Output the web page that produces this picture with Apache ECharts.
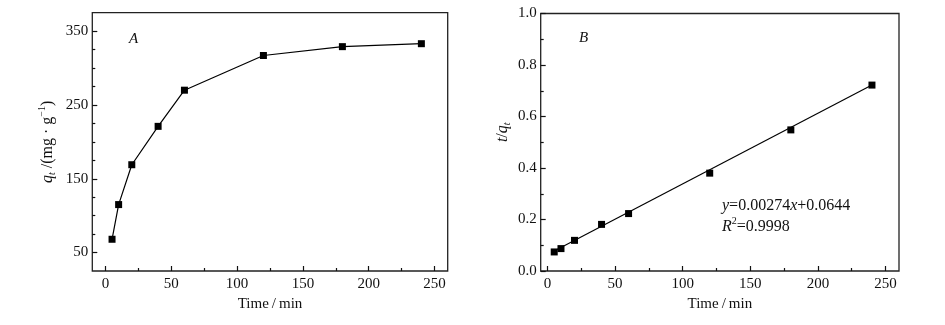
<!DOCTYPE html>
<html>
<head>
<meta charset="utf-8">
<script src="https://cdn.jsdelivr.net/npm/echarts@6/dist/echarts.min.js"></script>
<style>
  html, body { margin: 0; padding: 0; background: #fff; }
  #chart { width: 945px; height: 325px; }
</style>
</head>
<body>
<div id="chart"></div>
<script>
// sampling times (min)
var timeMin = [5, 10, 20, 40, 60, 120, 180, 240];
// panel A: adsorbed amount q_t (mg/g)
var qt = [68, 115, 169, 221, 270, 317, 329, 333];
// panel B: t/q_t
var tOverQt = [0.074, 0.087, 0.119, 0.181, 0.223, 0.380, 0.548, 0.722];
// fitted line y=0.00274x+0.0644, ends
var fitX = [5, 240];
var fitY = [0.078, 0.722];

// tick positions
var xMajor = [0, 50, 100, 150, 200, 250];
var xMinor = [25, 75, 125, 175, 225];
var yMajorA = [50, 150, 250, 350];
var yMinorA = [75, 100, 125, 175, 200, 225, 275, 300, 325];
var yMajorB = [0, 0.2, 0.4, 0.6, 0.8, 1.0];
var yMinorB = [0.1, 0.3, 0.5, 0.7, 0.9];

var FONT = '"Liberation Serif", "Times New Roman", serif';
var INK = '#111';

function pairs(xs, ys) {
  var out = [];
  for (var i = 0; i < xs.length; i++) out.push([xs[i], ys[i]]);
  return out;
}

var lbl = { color: INK, fontFamily: FONT, fontSize: 15 };

// axis that carries the labelled (long) ticks
function mainAxis(grid, pos, min, max, ticks, extra) {
  var ax = {
    gridIndex: grid, type: 'value', position: pos, offset: 0, min: min, max: max,
    axisLine: { show: false, onZero: false }, splitLine: { show: false },
    axisTick: { show: true, inside: true, length: 5, customValues: ticks, lineStyle: { color: INK, width: 1.2 } },
    axisLabel: Object.assign({ customValues: ticks, margin: pos === 'bottom' ? 6 : 4 }, lbl)
  };
  return Object.assign(ax, extra || {});
}

// axis that only carries the short ticks
function minorAxis(grid, pos, min, max, ticks) {
  return {
    gridIndex: grid, type: 'value', position: pos, offset: 0, min: min, max: max,
    axisLine: { show: false, onZero: false }, splitLine: { show: false }, axisLabel: { show: false },
    axisTick: { show: true, inside: true, length: 3, customValues: ticks, lineStyle: { color: INK, width: 1.2 } }
  };
}

var chart = echarts.init(document.getElementById('chart'));

var option = {
  backgroundColor: '#fff',
  animation: false,
  title: [
    { text: 'A', left: 129, top: 32, padding: 0,
      textStyle: { fontFamily: FONT, fontSize: 15, fontStyle: 'italic', fontWeight: 'normal', color: INK } },
    { text: 'B', left: 579, top: 31, padding: 0,
      textStyle: { fontFamily: FONT, fontSize: 15, fontStyle: 'italic', fontWeight: 'normal', color: INK } },
    { text: '{i|y}{n|=0.00274}{i|x}{n|+0.0644}\n{i|R}{sup|2}{n|=0.9998}', left: 722, top: 195, padding: 0,
      textStyle: {
        fontFamily: FONT, fontSize: 16, fontWeight: 'normal', color: INK, lineHeight: 21,
        rich: {
          n: { fontFamily: FONT, fontSize: 16, color: INK, lineHeight: 21 },
          i: { fontFamily: FONT, fontSize: 16, fontStyle: 'italic', color: INK, lineHeight: 21 },
          sup: { fontFamily: FONT, fontSize: 10, color: INK, verticalAlign: 'top', lineHeight: 21 }
        }
      } }
  ],
  grid: [
    { left: 92.3, top: 12.7, width: 355.4, height: 258.3, show: true, borderColor: '#222', borderWidth: 1.3, backgroundColor: 'transparent' },
    { left: 540.7, top: 13.5, width: 358.3, height: 257.5, show: true, borderColor: '#222', borderWidth: 1.3, backgroundColor: 'transparent' }
  ],
  xAxis: [
    mainAxis(0, 'bottom', -10, 260, xMajor, {
      name: 'Time\u2009/\u2009min', nameLocation: 'middle', nameGap: 16,
      nameTextStyle: { color: INK, fontFamily: FONT, fontSize: 15 } }),
    minorAxis(0, 'bottom', -10, 260, xMinor),
    mainAxis(1, 'bottom', -5, 260, xMajor, {
      name: 'Time\u2009/\u2009min', nameLocation: 'middle', nameGap: 16,
      nameTextStyle: { color: INK, fontFamily: FONT, fontSize: 15 } }),
    minorAxis(1, 'bottom', -5, 260, xMinor)
  ],
  yAxis: [
    mainAxis(0, 'left', 25, 375, yMajorA, {
      name: '{i|q}{sub|t}{n| /(mg · g}{sup|\u22121}{n|)}', nameLocation: 'middle', nameGap: 35,
      nameTextStyle: {
        color: INK, fontFamily: FONT, fontSize: 16, lineHeight: 20,
        rich: {
          n: { fontFamily: FONT, fontSize: 16, color: INK, lineHeight: 20 },
          i: { fontFamily: FONT, fontSize: 16, fontStyle: 'italic', color: INK, lineHeight: 20 },
          sub: { fontFamily: FONT, fontSize: 10, fontStyle: 'italic', color: INK, verticalAlign: 'bottom', lineHeight: 20 },
          sup: { fontFamily: FONT, fontSize: 10, color: INK, verticalAlign: 'top', lineHeight: 20 }
        }
      } }),
    minorAxis(0, 'left', 25, 375, yMinorA),
    mainAxis(1, 'left', 0, 1, yMajorB, {
      name: '{i|t}{n|/}{i|q}{sub|t}', nameLocation: 'middle', nameGap: 28,
      nameTextStyle: {
        color: INK, fontFamily: FONT, fontSize: 16, lineHeight: 20, padding: [0, 0, 0, 20],
        rich: {
          n: { fontFamily: FONT, fontSize: 16, color: INK, lineHeight: 20 },
          i: { fontFamily: FONT, fontSize: 16, fontStyle: 'italic', color: INK, lineHeight: 20 },
          sub: { fontFamily: FONT, fontSize: 10, fontStyle: 'italic', color: INK, verticalAlign: 'bottom', lineHeight: 20 }
        }
      } }),
    minorAxis(1, 'left', 0, 1, yMinorB)
  ],
  series: [
    { type: 'line', xAxisIndex: 0, yAxisIndex: 0, data: pairs(timeMin, qt),
      symbol: 'rect', symbolSize: 7, showAllSymbol: true,
      itemStyle: { color: '#000', opacity: 1 }, lineStyle: { color: '#000', width: 1.2 } },
    { type: 'line', xAxisIndex: 2, yAxisIndex: 2, data: pairs(fitX, fitY),
      showSymbol: false, symbol: 'none', lineStyle: { color: '#000', width: 1.2 } },
    { type: 'scatter', xAxisIndex: 2, yAxisIndex: 2, data: pairs(timeMin, tOverQt),
      symbol: 'rect', symbolSize: 7, itemStyle: { color: '#000', opacity: 1 } }
  ]
};

option.yAxis[2].axisLabel.formatter = function (v) { return v.toFixed(1); };

chart.setOption(option);
</script>
</body>
</html>
